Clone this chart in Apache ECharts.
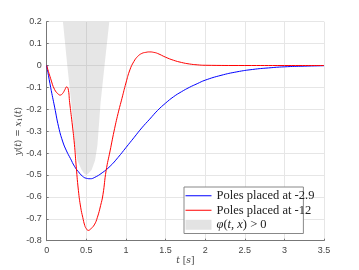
<!DOCTYPE html>
<html><head><meta charset="utf-8">
<script src="https://cdn.jsdelivr.net/npm/echarts@6/dist/echarts.min.js"></script>
<style>html,body{margin:0;padding:0;background:#fff}#c{width:359px;height:270px}</style>
</head><body><div id="c"></div>
<script>
const xTicks = [0, 0.5, 1, 1.5, 2, 2.5, 3, 3.5];
const yTicks = [-0.8, -0.7, -0.6, -0.5, -0.4, -0.3, -0.2, -0.1, 0, 0.1, 0.2];

const blueT = [0,0.05,0.1,0.15,0.2,0.25,0.3,0.35,0.4,0.45,0.5,0.55,0.6,0.7,0.8,0.9,1.0,1.1,1.2,1.3,1.4,1.5,1.6,1.7,1.8,1.9,2.0,2.2,2.4,2.6,2.8,3.0,3.25,3.5];
const blueY = [0,-0.1,-0.19,-0.28,-0.345,-0.39,-0.425,-0.46,-0.485,-0.505,-0.515,-0.517,-0.512,-0.49,-0.46,-0.42,-0.375,-0.33,-0.285,-0.245,-0.205,-0.172,-0.143,-0.12,-0.1,-0.083,-0.067,-0.045,-0.029,-0.018,-0.011,-0.006,-0.003,-0.001];

const redT = [0,0.05,0.1,0.15,0.17,0.2,0.23,0.25,0.27,0.29,0.32,0.35,0.37,0.4,0.43,0.455,0.48,0.5,0.525,0.55,0.6,0.64,0.68,0.71,0.75,0.8,0.85,0.9,0.95,1.0,1.05,1.1,1.15,1.2,1.25,1.3,1.35,1.4,1.5,1.6,1.7,1.8,1.9,2.0,2.5,3.0,3.5];
const redY = [0,-0.06,-0.11,-0.132,-0.135,-0.128,-0.11,-0.098,-0.105,-0.17,-0.26,-0.36,-0.45,-0.57,-0.65,-0.693,-0.73,-0.745,-0.753,-0.748,-0.728,-0.693,-0.64,-0.59,-0.48,-0.39,-0.3,-0.22,-0.15,-0.08,-0.02,0.018,0.042,0.055,0.06,0.062,0.06,0.055,0.038,0.024,0.014,0.007,0.003,0.001,0,0,0];

const regionT = [0.205,0.26,0.31,0.357,0.387,0.44,0.47,0.5,0.53,0.568,0.61,0.64,0.68,0.73,0.79];
const regionY = [0.2,0,-0.17,-0.365,-0.434,-0.476,-0.492,-0.5,-0.492,-0.476,-0.434,-0.365,-0.17,0,0.2];

const names = ['Poles placed at -2.9', 'Poles placed at -12', 'phi'];
const chart = echarts.init(document.getElementById('c'));
const grayFill = 'rgba(128,128,128,0.2)';
chart.setOption({
  animation: false,
  grid: {left: 46.7, right: 35, top: 21.7, bottom: 29.3},
  xAxis: {
    type: 'value', min: 0, max: 3.5, interval: 0.5,
    name: '{i|t} [{i|s}]', nameLocation: 'middle', nameGap: 15, nameMoveOverlap: false,
    nameTextStyle: {fontFamily: 'DejaVu Serif', fontSize: 9, color: '#444', rich: {i: {fontStyle: 'italic', fontFamily: 'DejaVu Serif', fontSize: 9, color: '#444'}}},
    axisLine: {onZero: false, lineStyle: {color: '#777', width: 1}},
    axisTick: {inside: true, length: 2, lineStyle: {color: '#777'}},
    axisLabel: {fontSize: 9, color: '#444', margin: 5, fontFamily: 'Liberation Sans'},
    splitLine: {show: true, lineStyle: {color: '#e6e6e6', width: 1}}
  },
  yAxis: {
    type: 'value', min: -0.8, max: 0.2, interval: 0.1,
    name: '{i|y}({i|t}) = {i|x}{s|1}({i|t})', nameLocation: 'middle', nameGap: 23, nameMoveOverlap: false,
    nameTextStyle: {fontFamily: 'DejaVu Serif', fontSize: 9, color: '#444', rich: {i: {fontStyle: 'italic', fontFamily: 'DejaVu Serif', fontSize: 9, color: '#444'}, s: {fontFamily: 'DejaVu Serif', fontSize: 6, color: '#444', verticalAlign: 'bottom', padding:[4,0,0,0]}}},
    axisLine: {show: true, onZero: false, lineStyle: {color: '#777', width: 1}},
    axisTick: {show: true, inside: true, length: 2, lineStyle: {color: '#777'}},
    axisLabel: {fontSize: 9, color: '#444', margin: 5, fontFamily: 'Liberation Sans', formatter: v => String(Math.round(v*10)/10)},
    splitLine: {show: true, lineStyle: {color: '#e6e6e6', width: 1}}
  },
  legend: {
    orient: 'vertical', left: 184, top: 187,
    backgroundColor: '#fff', borderColor: '#888', borderWidth: 1, borderRadius: 0,
    padding: [2, -11, 2, 1], itemGap: 1, itemWidth: 26, itemHeight: 10,
    textStyle: {fontFamily: 'Liberation Serif', fontSize: 12.5, lineHeight: 13.5, color: '#222',
      rich: {i: {fontStyle: 'italic', fontFamily: 'Liberation Serif', fontSize: 12.5, lineHeight: 13.5, color: '#222'}, n: {fontFamily: 'Liberation Serif', fontSize: 12.5, lineHeight: 13.5, color: '#222'}}},
    formatter: n => n === 'phi' ? '{i|φ}{n|(}{i|t}{n|, }{i|x}{n|) > 0}' : n,
    data: [
      {name: names[0], itemStyle: {opacity: 0}, lineStyle: {width: 1}},
      {name: names[1], itemStyle: {opacity: 0}, lineStyle: {width: 1}},
      {name: names[2], icon: 'rect', itemStyle: {color: '#e3e3e3'}}
    ]
  },
  series: [
    {
      name: names[2], type: 'custom', clip: true, z: 1,
      data: regionT.map((t, i) => [t, regionY[i]]),
      encode: {x: 0, y: 1},
      itemStyle: {color: grayFill},
      renderItem: (params, api) => {
        if (params.dataIndex !== 0) return null;
        const pts = regionT.map((t, i) => api.coord([t, regionY[i]]));
        return {type: 'polygon', shape: {points: pts}, style: {fill: grayFill}};
      }
    },
    {
      name: names[0], type: 'line', smooth: true, symbol: 'none', z: 3,
      data: blueT.map((t, i) => [t, blueY[i]]),
      lineStyle: {color: '#0000ff', width: 1}, itemStyle: {color: '#0000ff'}
    },
    {
      name: names[1], type: 'line', smooth: true, symbol: 'none', z: 4,
      data: redT.map((t, i) => [t, redY[i]]),
      lineStyle: {color: '#ff0000', width: 1}, itemStyle: {color: '#ff0000'}
    }
  ]
});
</script></body></html>
